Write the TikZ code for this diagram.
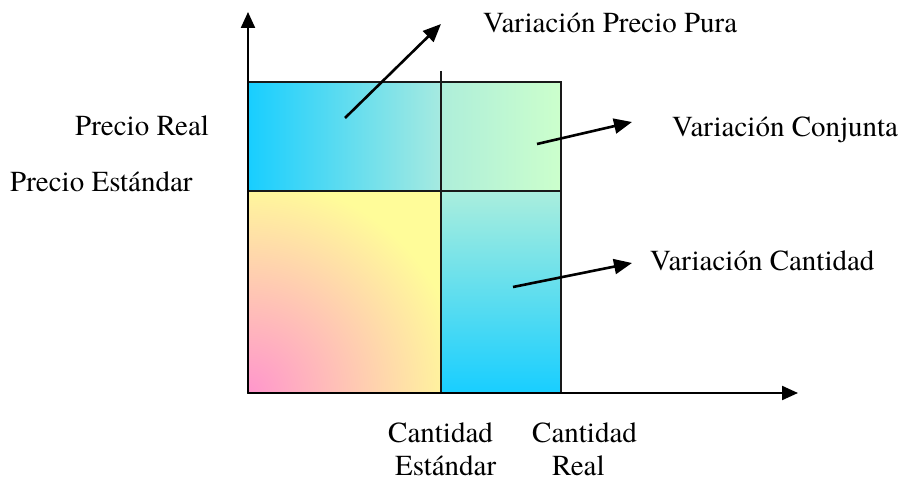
\documentclass[tikz,border=0pt]{standalone}
\usepackage{fontspec}
\setmainfont{TeX Gyre Termes}
\newfontfamily\timesx{TeX Gyre Termes}
\usetikzlibrary{arrows.meta}
\definecolor{cyanc}{RGB}{24,206,255}
\definecolor{tlright}{RGB}{166,234,224}
\definecolor{trleft}{RGB}{174,238,218}
\definecolor{greenc}{RGB}{204,255,204}
\definecolor{brtop}{RGB}{170,238,221}
\definecolor{pinkc}{RGB}{255,150,204}
\definecolor{yelc}{RGB}{255,252,153}
\tikzset{
  lbl/.style={inner sep=0pt, anchor=base west, font=\timesx\fontsize{29}{34}\selectfont},
  bord/.style={draw=black!90, line width=2pt},
  divline/.style={draw=black!90, line width=1.6pt},
  arr/.style={line width=2.6pt, -{Triangle[length=18pt,width=15pt]}},
  axis/.style={line width=2.2pt, -{Triangle[length=16pt,width=14pt]}}
}
\begin{document}
\begin{tikzpicture}[x=1pt,y=-1pt]
\useasboundingbox (0,0) rectangle (921,481);
% corners
\coordinate (A) at (248,82);   % top-left of box
\coordinate (B) at (561,82);   % top-right
\coordinate (D) at (441,393);  % bottom of divider
\coordinate (O) at (248,393);  % origin
\coordinate (C) at (561,393);  % bottom-right
\coordinate (M) at (248,191);  % mid-left
\coordinate (N) at (561,191);  % mid-right
\coordinate (X) at (441,191);  % cross
\coordinate (Dtop) at (441,71);
% fills
\shade[left color=cyanc, right color=tlright] (A) rectangle (X);
\shade[left color=trleft, right color=greenc] (441,82) rectangle (N);
\shade[top color=brtop, bottom color=cyanc] (X) rectangle (C);
\begin{scope}
  \clip (M) rectangle (D);
  \fill[yelc] (M) rectangle (D);
  \shade[inner color=pinkc, outer color=yelc] (O) circle[radius=215pt];
\end{scope}
% borders
\draw[bord] (A) rectangle (C);
\draw[divline] (M) -- (N);
\draw[divline] (Dtop) -- (D);
% axes
\coordinate (yT) at (248,12);
\coordinate (xT) at (798,393);
\draw[axis] (O) -- (yT);
\draw[axis] (O) -- (xT);
% labels
\node[lbl] (vpp) at (483,33) {Variación Precio Pura};
\node[lbl] (pr) at (75,136) {Precio Real};
\node[lbl] (pe) at (10,192) {Precio Estándar};
\node[lbl] (vcj) at (672,137) {Variación Conjunta};
\node[lbl] (vca) at (650,270) {Variación Cantidad};
\node[lbl] (c1) at (388,442) {Cantidad};
\node[lbl] (e1) at (395,475) {Estándar};
\node[lbl] (c2) at (532,442) {Cantidad};
\node[lbl] (r2) at (552,475) {Real};
% arrows
\coordinate (s1) at (345,118); \coordinate (t1) at (441,24);
\coordinate (s2) at (537,144); \coordinate (t2) at (632,122);
\coordinate (s3) at (513,287); \coordinate (t3) at (632,263);
\draw[arr] (s1) -- (t1);
\draw[arr] (s2) -- (t2);
\draw[arr] (s3) -- (t3);
\end{tikzpicture}
\end{document}
